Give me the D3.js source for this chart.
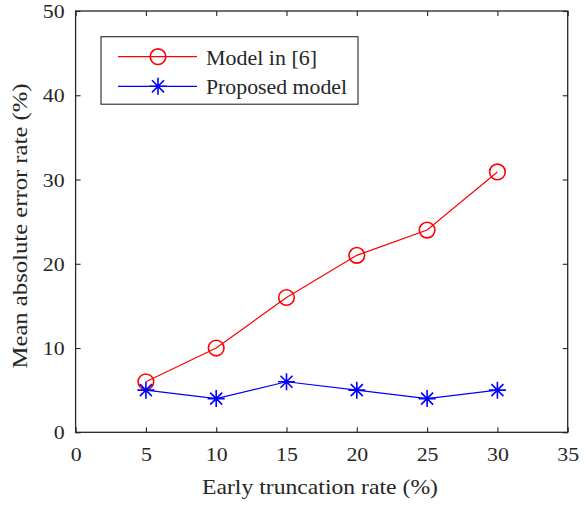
<!DOCTYPE html>
<html><head><meta charset="utf-8">
<script src="https://cdn.jsdelivr.net/npm/d3@7"></script>
<style>body{margin:0;background:#fff}svg{display:block}text{font-family:"Liberation Serif","Times New Roman",serif;fill:#262626}</style>
</head><body>
<script>
const xs = [5, 10, 15, 20, 25, 30];
const modelIn6 = [6, 10, 16, 21, 24, 30.9];
const proposed = [5, 4, 6, 5, 4, 5];
const xTicks = [0, 5, 10, 15, 20, 25, 30, 35];
const yTicks = [0, 10, 20, 30, 40, 50];
const seriesNames = ["Model in [6]", "Proposed model"];

const W = 586, H = 506;
const m = {left: 75.6, right: 567.7, top: 11, bottom: 432.3};
const svg = d3.select("body").append("svg").attr("width", W).attr("height", H);
const x = d3.scaleLinear().domain([0, 35]).range([m.left, m.right]);
const y = d3.scaleLinear().domain([0, 50]).range([m.bottom, m.top]);
const axc = "#262626";

function stretch(sel, factor, target) {
  sel.each(function () {
    const len = this.getComputedTextLength();
    d3.select(this).attr("textLength", target || len * factor).attr("lengthAdjust", "spacingAndGlyphs");
  });
}

svg.append("rect").attr("x", m.left).attr("y", m.top).attr("width", m.right - m.left).attr("height", m.bottom - m.top)
  .attr("fill", "none").attr("stroke", axc).attr("stroke-width", 1.3);

const gx = svg.append("g").attr("transform", `translate(0,${m.bottom})`)
  .call(d3.axisBottom(x).tickValues(xTicks).tickSize(-5).tickPadding(15));
const gxt = svg.append("g").attr("transform", `translate(0,${m.top})`)
  .call(d3.axisTop(x).tickValues(xTicks).tickSize(-5).tickFormat(""));
const gy = svg.append("g").attr("transform", `translate(${m.left},0)`)
  .call(d3.axisLeft(y).tickValues(yTicks).tickSize(-5).tickPadding(11));
const gyr = svg.append("g").attr("transform", `translate(${m.right},0)`)
  .call(d3.axisRight(y).tickValues(yTicks).tickSize(-5).tickFormat(""));
[gx, gxt, gy, gyr].forEach(g => {
  g.select(".domain").remove();
  g.selectAll("line").attr("stroke", axc).attr("stroke-width", 1.1);
  g.selectAll("text").style("font-family", '"Liberation Serif",serif').style("font-size", "19.5px").attr("fill", axc);
});
gx.selectAll("text").attr("dy", "0.72em");
gy.selectAll("text").attr("dy", "0.34em");
stretch(gx.selectAll("text"), 1.12);
stretch(gy.selectAll("text"), 1.12);

svg.append("text").attr("x", 320).attr("y", 494).attr("text-anchor", "middle")
  .style("font-size", "21px").text("Early truncation rate (%)").call(stretch, 1, 236);
svg.append("text").attr("transform", `translate(27,226) rotate(-90)`).attr("text-anchor", "middle")
  .style("font-size", "21px").text("Mean absolute error rate (%)").call(stretch, 1, 285);

const line = d3.line().x((d, i) => x(xs[i])).y(d => y(d));
svg.append("path").datum(modelIn6).attr("d", line).attr("fill", "none").attr("stroke", "#ff0000").attr("stroke-width", 1.2);
svg.append("path").datum(proposed).attr("d", line).attr("fill", "none").attr("stroke", "#0000ff").attr("stroke-width", 1.2);

function circle(g, cx, cy) {
  g.append("circle").attr("cx", cx).attr("cy", cy).attr("r", 7.8).attr("fill", "none").attr("stroke", "#ff0000").attr("stroke-width", 1.6);
}
function star(g, cx, cy) {
  const r = 8.5, d = r * 0.7071;
  const p = `M${cx - r},${cy}L${cx + r},${cy}M${cx},${cy - r}L${cx},${cy + r}M${cx - d},${cy - d}L${cx + d},${cy + d}M${cx - d},${cy + d}L${cx + d},${cy - d}`;
  g.append("path").attr("d", p).attr("stroke", "#0000ff").attr("stroke-width", 1.6).attr("fill", "none");
}
modelIn6.forEach((v, i) => circle(svg, x(xs[i]), y(v)));
proposed.forEach((v, i) => star(svg, x(xs[i]), y(v)));

const lg = svg.append("g");
lg.append("rect").attr("x", 101).attr("y", 36.7).attr("width", 257).attr("height", 67.5).attr("fill", "#fff").attr("stroke", axc).attr("stroke-width", 1.1);
const rows = [56.7, 86.3];
lg.append("line").attr("x1", 118).attr("x2", 197).attr("y1", rows[0]).attr("y2", rows[0]).attr("stroke", "#ff0000").attr("stroke-width", 1.2);
circle(lg, 158, rows[0]);
lg.append("line").attr("x1", 118).attr("x2", 197).attr("y1", rows[1]).attr("y2", rows[1]).attr("stroke", "#0000ff").attr("stroke-width", 1.2);
star(lg, 158, rows[1]);
const widths = [111, 141];
seriesNames.forEach((n, i) => lg.append("text").attr("x", 206).attr("y", rows[i] + 7.8).style("font-size", "20px").attr("fill", "#000").text(n).call(stretch, 1, widths[i]));
</script>
</body></html>
